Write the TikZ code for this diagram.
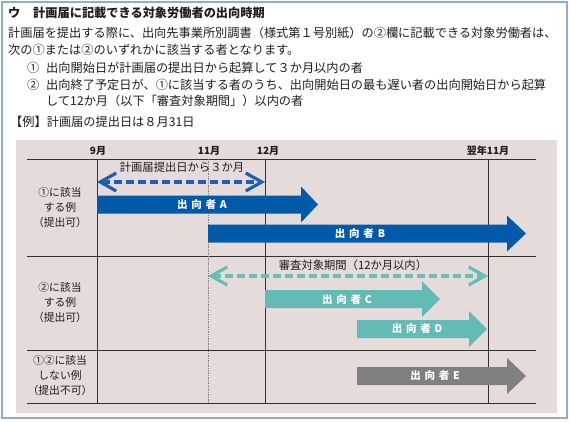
\documentclass[tikz,border=0pt]{standalone}
\usepackage{fontspec}
\setmainfont{Noto Sans CJK JP}
\usetikzlibrary{arrows.meta}
\definecolor{bgpink}{RGB}{230,219,219}
\definecolor{frameblue}{RGB}{143,170,220}
\definecolor{arrblue}{RGB}{0,90,170}
\definecolor{dashblue}{RGB}{30,95,175}
\definecolor{arrteal}{RGB}{100,187,182}
\definecolor{dashteal}{RGB}{105,190,182}
\definecolor{arrgray}{RGB}{128,128,128}
\definecolor{gridcol}{RGB}{50,50,50}
\definecolor{txt}{RGB}{30,30,30}
\newcommand\flatarrow[5]{%
  \fill[#5] (#1,#4-9) -- (#2,#4-9) -- (#2,#4-18) -- (#3,#4) -- (#2,#4+18) -- (#2,#4+9) -- (#1,#4+9) -- cycle;}
\newcommand\gapx{\hspace{0.36em}}
\begin{document}
\begin{tikzpicture}[x=1pt,y=-1pt,
  bodytxt/.style={anchor=west,inner sep=0pt,text=txt,font=\fontsize{12.2}{14}\selectfont},
  hdtxt/.style={anchor=west,inner sep=0pt,text=txt,font=\fontsize{12.2}{14}\selectfont\bfseries},
  monthtxt/.style={inner sep=0pt,text=txt,font=\fontsize{10}{12}\selectfont\bfseries},
  rowtxt/.style={inner sep=0pt,text=txt,align=center,font=\fontsize{10.8}{15}\selectfont},
  lbltxt/.style={inner sep=0pt,text=txt,font=\fontsize{11.3}{14}\selectfont},
  arrtxt/.style={inner sep=0pt,text=white,font=\fontsize{10.5}{12}\selectfont\bfseries},
  gridln/.style={draw=gridcol,line width=1pt},
  dashln/.style={line width=3.2pt,dash pattern=on 8pt off 4pt,
     arrows={Straight Barb[length=16pt,width=18pt]-Straight Barb[length=16pt,width=18pt]}}
]
\useasboundingbox (0,0) rectangle (569,421);
\fill[white] (0,0) rectangle (569,421);
\draw[frameblue,line width=1.5pt] (2,2) rectangle (567,418);

% texts
\node[hdtxt] (t0) at (8,13) {ウ};
\node[hdtxt] (t1) at (33,13) {計画届に記載できる対象労働者の出向時期};
\node[bodytxt] (t2) at (8,33) {計画届を提出する際に、出向先事業所別調書（様式第１号別紙）の②欄に記載できる対象労働者は、};
\node[bodytxt] (t3) at (8,50) {次の①または②のいずれかに該当する者となります。};
\node[bodytxt] (c1) at (27,68) {①};
\node[bodytxt] (t4) at (46,68) {出向開始日が計画届の提出日から起算して３か月以内の者};
\node[bodytxt] (c2) at (27,85) {②};
\node[bodytxt] (t5) at (46,85) {出向終了予定日が、①に該当する者のうち、出向開始日の最も遅い者の出向開始日から起算};
\node[bodytxt] (t6) at (46,101) {して12か月（以下「審査対象期間」）以内の者};
\node[bodytxt] (t7) at (10,122) {【例】計画届の提出日は８月31日};

% panel
\fill[bgpink] (16,140) rectangle (557,413);
\node[monthtxt] (m9) at (98,151) {9月};
\node[monthtxt] (m11) at (209,151) {11月};
\node[monthtxt] (m12) at (268,151) {12月};
\node[monthtxt] (mn) at (488,151) {翌年11月};

\draw[gridln] (27,159) -- (536,159);
\draw[gridln] (27,256) -- (536,256);
\draw[gridln] (27,350) -- (536,350);
\draw[gridln] (27,403) -- (536,403);
\draw[gridln] (97,159) -- (97,403);
\draw[gridln] (265,159) -- (265,403);
\draw[gridln] (488,159) -- (488,403);
\draw[gray,line width=0.7pt,densely dotted] (208,159) -- (208,403);

\node[rowtxt] (r1) at (60,207) {①に該当\\する例\\（提出可）};
\node[rowtxt] (r2) at (60,302) {②に該当\\する例\\（提出可）};
\node[rowtxt] (r3) at (60,375) {①②に該当\\しない例\\（提出不可）};

% dashed arrows
\coordinate (ba) at (97,182);
\coordinate (bb) at (265,182);
\draw[dashln,dashblue] (ba) -- (bb);
\node[lbltxt] (lb) at (182,167) {計画届提出日から３か月};

\coordinate (ta) at (208,276);
\coordinate (tb) at (488,276);
\draw[dashln,dashteal] (ta) -- (tb);
\node[lbltxt] (lt) at (353,265) {審査対象期間（12か月以内）};

% filled arrows
\flatarrow{97}{301}{318}{204.5}{arrblue}
\node[arrtxt] (la) at (202,205) {出\gapx 向\gapx 者\gapx A};
\flatarrow{208}{507}{526}{233.5}{arrblue}
\node[arrtxt] (lbb) at (360,234) {出\gapx 向\gapx 者\gapx B};
\flatarrow{265}{422}{440}{299}{arrteal}
\node[arrtxt] (lc) at (347,300) {出\gapx 向\gapx 者\gapx C};
\flatarrow{357}{469}{487}{329}{arrteal}
\node[arrtxt] (ld) at (417,329) {出\gapx 向\gapx 者\gapx D};
\flatarrow{357}{507}{526}{376}{arrgray}
\node[arrtxt] (le) at (435,376) {出\gapx 向\gapx 者\gapx E};
\end{tikzpicture}
\end{document}
